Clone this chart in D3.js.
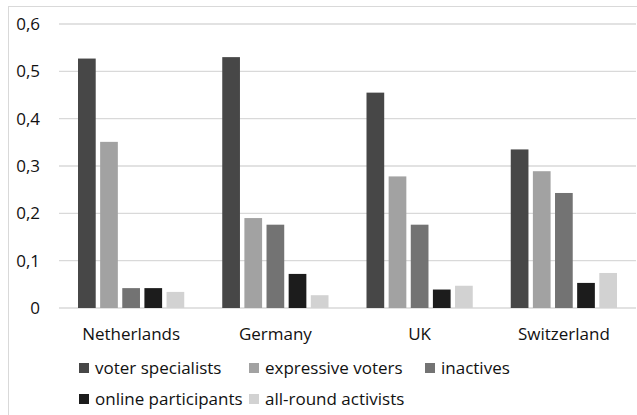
<!DOCTYPE html>
<meta charset="utf-8">
<style>
body { margin: 0; background: #fff; }
text { font-family: "Open Sans", sans-serif; font-size: 17px; fill: #111; }
</style>
<svg width="637" height="415"></svg>
<script src="https://d3js.org/d3.v7.min.js"></script>
<script>

// countries along the x axis
var countries = ["Netherlands", "Germany", "UK", "Switzerland"];

// one array per cluster type, same order as countries
var voterSpecialists   = [0.527, 0.530, 0.455, 0.335];
var expressiveVoters   = [0.351, 0.190, 0.278, 0.289];
var inactives          = [0.042, 0.176, 0.176, 0.243];
var onlineParticipants = [0.042, 0.072, 0.039, 0.053];
var allRoundActivists  = [0.034, 0.027, 0.047, 0.074];

var seriesNames = ["voter specialists", "expressive voters", "inactives",
                   "online participants", "all-round activists"];
var seriesValues = [voterSpecialists, expressiveVoters, inactives,
                    onlineParticipants, allRoundActivists];
var seriesColors = ["#474747", "#a2a2a2", "#737373", "#1c1c1c", "#d2d2d2"];

var yTicks = [0, 0.1, 0.2, 0.3, 0.4, 0.5, 0.6];

var svg = d3.select("svg");

// chart frame (cut off on the right and bottom like the original)
svg.append("rect")
    .attr("x", 8.5).attr("y", 6.5)
    .attr("width", 700).attr("height", 500)
    .attr("fill", "none")
    .attr("stroke", "#d9d9d9");

// note: "top" is taken by window.top, so prefix these
var plotLeft = 59, plotRight = 636, plotTop = 24, plotBottom = 308;

var y = d3.scaleLinear().domain([0, 0.6]).range([plotBottom, plotTop]);

var x0 = d3.scaleBand().domain(countries).range([plotLeft, plotRight]);

var x1 = d3.scaleBand()
    .domain(d3.range(seriesNames.length))
    .range([19, x0.bandwidth() - 19])
    .paddingInner(0.2);

// gridlines
svg.append("g")
  .selectAll("line")
  .data(yTicks)
  .join("line")
    .attr("x1", plotLeft).attr("x2", plotRight)
    .attr("y1", function(d) { return y(d); })
    .attr("y2", function(d) { return y(d); })
    .attr("stroke", "#d9d9d9")
    .attr("stroke-width", 1.3);

// y labels, decimal comma
svg.append("g")
  .selectAll("text")
  .data(yTicks)
  .join("text")
    .attr("x", 40)
    .attr("y", function(d) { return y(d); })
    .attr("dy", "0.36em")
    .attr("text-anchor", "end")
    .text(function(d) { return d === 0 ? "0" : d.toFixed(1).replace(".", ","); });

// bars
var groups = svg.append("g")
  .selectAll("g")
  .data(countries)
  .join("g")
    .attr("transform", function(c) { return "translate(" + x0(c) + ",0)"; });

groups.selectAll("rect")
  .data(function(c, ci) {
    return seriesValues.map(function(vals, si) { return {s: si, v: vals[ci]}; });
  })
  .join("rect")
    .attr("x", function(d) { return x1(d.s); })
    .attr("width", x1.bandwidth())
    .attr("y", function(d) { return y(d.v); })
    .attr("height", function(d) { return plotBottom - y(d.v); })
    .attr("fill", function(d) { return seriesColors[d.s]; });

// category labels
svg.append("g")
  .selectAll("text")
  .data(countries)
  .join("text")
    .attr("x", function(c) { return x0(c) + x0.bandwidth() / 2; })
    .attr("y", 340)
    .attr("text-anchor", "middle")
    .text(function(c) { return c; });

// legend: three on the first row, two on the second
var legendPos = [[79, 368], [249, 368], [425, 368], [79, 399], [249, 399]];

var legend = svg.append("g")
  .selectAll("g")
  .data(seriesNames)
  .join("g")
    .attr("transform", function(d, i) { return "translate(" + legendPos[i][0] + "," + legendPos[i][1] + ")"; });

legend.append("rect")
    .attr("x", 0).attr("y", -5)
    .attr("width", 10).attr("height", 10)
    .attr("fill", function(d, i) { return seriesColors[i]; });

legend.append("text")
    .attr("x", 16)
    .attr("dy", "0.36em")
    .text(function(d) { return d; });

</script>
